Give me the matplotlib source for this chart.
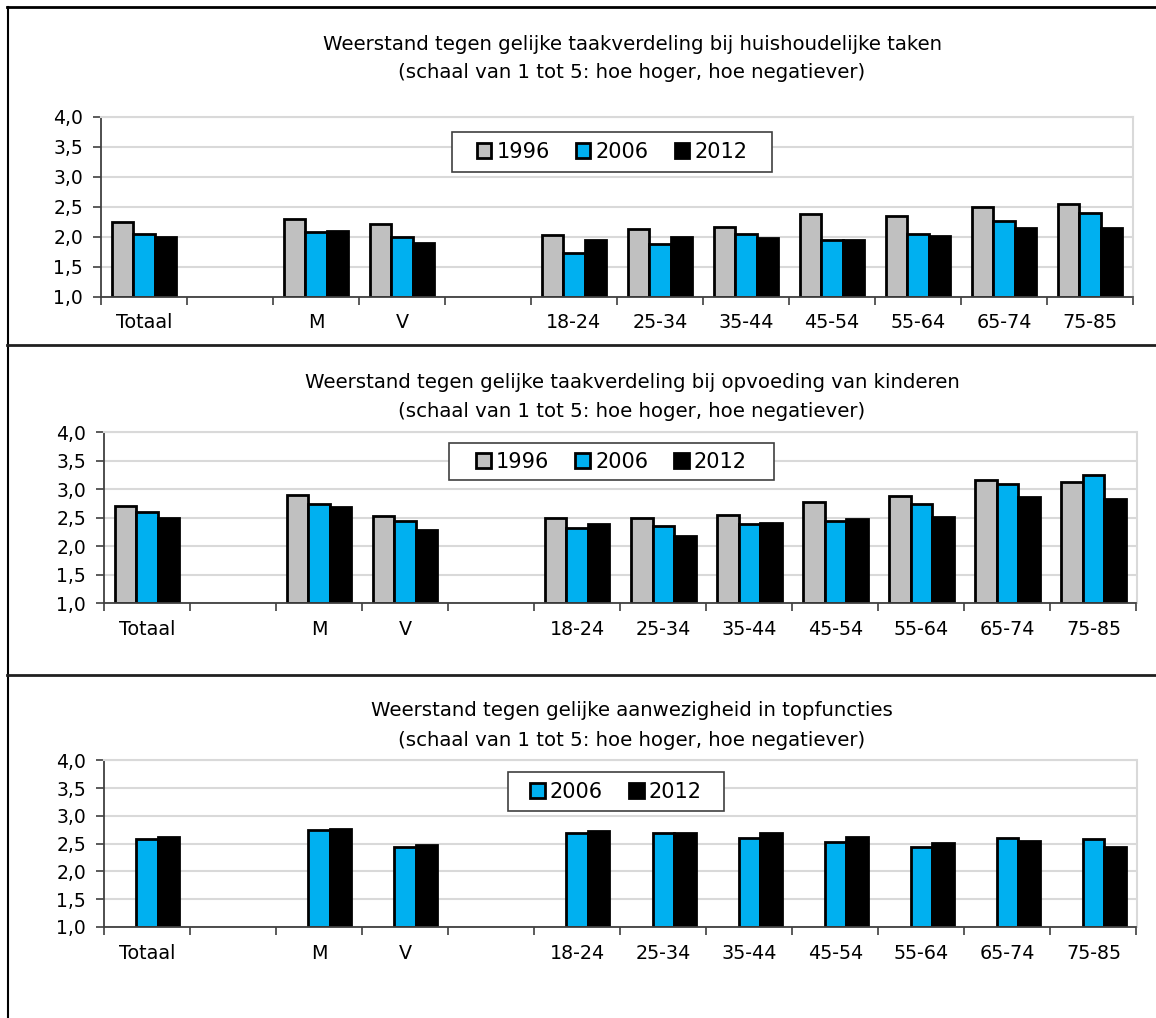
import numpy as np
import matplotlib.pyplot as plt
from matplotlib.lines import Line2D
from matplotlib.patches import Rectangle

W, H = 1156, 1018

categories = ['Totaal', '', 'M', 'V', '', '18-24', '25-34', '35-44', '45-54', '55-64', '65-74', '75-85']
years = ['1996', '2006', '2012']
colors = ['#C0C0C0', '#00B0F0', '#000000']

# huishoudelijke taken
huis_1996 = [2.24, np.nan, 2.29, 2.21, np.nan, 2.02, 2.12, 2.16, 2.38, 2.34, 2.50, 2.55]
huis_2006 = [2.04, np.nan, 2.07, 1.99, np.nan, 1.73, 1.88, 2.05, 1.95, 2.05, 2.26, 2.39]
huis_2012 = [1.99, np.nan, 2.09, 1.89, np.nan, 1.94, 1.99, 1.97, 1.94, 2.01, 2.14, 2.14]

# opvoeding van kinderen
opv_1996 = [2.71, np.nan, 2.90, 2.54, np.nan, 2.50, 2.50, 2.55, 2.78, 2.88, 3.17, 3.13]
opv_2006 = [2.61, np.nan, 2.75, 2.45, np.nan, 2.32, 2.36, 2.39, 2.45, 2.74, 3.09, 3.25]
opv_2012 = [2.49, np.nan, 2.69, 2.29, np.nan, 2.39, 2.18, 2.41, 2.48, 2.52, 2.87, 2.83]

# topfuncties (geen 1996)
top_2006 = [2.58, np.nan, 2.74, 2.44, np.nan, 2.69, 2.69, 2.60, 2.53, 2.44, 2.60, 2.59]
top_2012 = [2.62, np.nan, 2.76, 2.47, np.nan, 2.73, 2.70, 2.70, 2.62, 2.51, 2.55, 2.44]

titles = ['Weerstand tegen gelijke taakverdeling bij huishoudelijke taken',
          'Weerstand tegen gelijke taakverdeling bij opvoeding van kinderen',
          'Weerstand tegen gelijke aanwezigheid in topfuncties']
subtitle = '(schaal van 1 tot 5: hoe hoger, hoe negatiever)'

panels = [
    dict(series=[huis_1996, huis_2006, huis_2012], box=(101, 1133, 116.7, 296.7),
         title_y=(44, 73), leg=(452, 772, 132, 172)),
    dict(series=[opv_1996, opv_2006, opv_2012], box=(104, 1136.5, 432.3, 603.3),
         title_y=(383, 411), leg=(449, 774, 443, 480)),
    dict(series=[None, top_2006, top_2012], box=(104, 1136.5, 760.3, 927),
         title_y=(711, 740), leg=(508, 724, 772, 811)),
]

plt.rcParams['font.family'] = ['DejaVu Sans']
fig = plt.figure(figsize=(W / 100, H / 100), dpi=100)

x = np.arange(len(categories))
bw = 0.25

for p, title in zip(panels, titles):
    l, r, t, b = p['box']
    ax = fig.add_axes([l / W, 1 - b / H, (r - l) / W, (b - t) / H])
    handles = []
    for i, (vals, col, yr) in enumerate(zip(p['series'], colors, years)):
        if vals is None:
            continue
        bars = ax.bar(x + (i - 1) * bw, np.array(vals) - 1, bottom=1, width=bw,
                      color=col, edgecolor='black', linewidth=2, label=yr, zorder=3)
        handles.append(bars)
    ax.set_xlim(-0.5, len(categories) - 0.5)
    ax.set_ylim(1, 4)
    ax.set_yticks(np.arange(1, 4.01, 0.5))
    ax.set_yticklabels([f'{v:.1f}'.replace('.', ',') for v in np.arange(1, 4.01, 0.5)])
    ax.set_xticks(x)
    ax.set_xticklabels(categories)
    ax.set_xticks(np.arange(-0.5, len(categories)), minor=True)
    ax.tick_params(axis='x', which='major', length=0, pad=12, labelsize=13.8)
    ax.tick_params(axis='x', which='minor', length=6, width=1.2, color='#404040', direction='out')
    ax.tick_params(axis='y', length=6, width=1.2, color='#404040', pad=7, labelsize=13.5)
    ax.grid(axis='y', color='#D9D9D9', linewidth=1.5, zorder=0)
    ax.set_axisbelow(True)
    for s in ['left', 'bottom']:
        ax.spines[s].set_color('#404040')
        ax.spines[s].set_linewidth(1.3)
    for s in ['top', 'right']:
        ax.spines[s].set_color('#D9D9D9')
        ax.spines[s].set_linewidth(1.5)
    ax.spines['bottom'].set_zorder(4)

    fig.text(632 / W, 1 - p['title_y'][0] / H, title, ha='center', va='center', fontsize=14.2)
    fig.text(632 / W, 1 - p['title_y'][1] / H, subtitle, ha='center', va='center', fontsize=14.2)

    # legend box drawn by hand, legend itself without frame
    ll, lr, lt, lb = p['leg']
    ax.add_patch(Rectangle((ll / W, 1 - lb / H), (lr - ll) / W, (lb - lt) / H,
                           transform=fig.transFigure, facecolor='white', clip_on=False,
                           edgecolor='#404040', linewidth=1.2, zorder=4.5))
    leg = ax.legend(handles=handles, loc='center', ncol=len(handles),
                    bbox_to_anchor=((ll + lr) / 2 / W, 1 - (lt + lb) / 2 / H),
                    bbox_transform=fig.transFigure, fontsize=15, frameon=False,
                    handlelength=0.7, handleheight=0.7,
                    handletextpad=0.25, columnspacing=1.25, borderpad=0.2)
    leg.set_zorder(6)

# frame lines around the panels
lc = '#000000'
fig.add_artist(Line2D([7.5 / W, 7.5 / W], [0, 1 - 7 / H], color=lc, linewidth=1.5))
fig.add_artist(Line2D([7 / W, 1], [1 - 7 / H, 1 - 7 / H], color=lc, linewidth=2))
for yy in [345, 675]:
    fig.add_artist(Line2D([7 / W, 1], [1 - yy / H, 1 - yy / H], color='#202020', linewidth=2))

fig.savefig('out.png', dpi=100)
